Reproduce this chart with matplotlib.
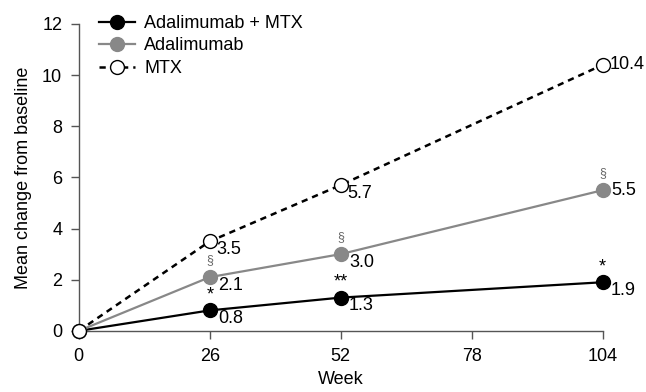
import matplotlib.pyplot as plt

plt.rcParams['font.family'] = ['Liberation Sans', 'DejaVu Sans']

weeks = [0, 26, 52, 104]
combo = [0, 0.8, 1.3, 1.9]
adal = [0, 2.1, 3.0, 5.5]
mtx = [0, 3.5, 5.7, 10.4]

combo_sig = ['', '*', '**', '*']
adal_sig = ['', '§', '§', '§']

fs = 13

fig = plt.figure(figsize=(6.46, 3.92), dpi=100)
ax = fig.add_axes([0.122, 0.156, 0.811, 0.783])

grey = '#888888'
ax.plot(weeks, combo, color='black', lw=1.6, marker='o', ms=10, mfc='black', mec='black',
        label='Adalimumab + MTX', zorder=3, clip_on=False)
ax.plot(weeks, adal, color=grey, lw=1.6, marker='o', ms=10, mfc=grey, mec=grey,
        label='Adalimumab', zorder=3, clip_on=False)
ax.plot(weeks, mtx, color='black', lw=1.8, ls=(0, (2.5, 2)), marker='o', ms=10, mfc='white',
        mec='black', mew=1, label='MTX', zorder=4, clip_on=False)

# value labels
for x, y in zip(weeks[1:], combo[1:]):
    ax.annotate(f'{y:.1f}', (x, y), xytext=(6, -6), textcoords='offset points',
                ha='left', va='center', fontsize=fs)
for x, y in zip(weeks[1:], adal[1:]):
    dy = 0 if x == 104 else -6
    ax.annotate(f'{y:.1f}', (x, y), xytext=(6, dy), textcoords='offset points',
                ha='left', va='center', fontsize=fs)
for x, y in zip(weeks[1:], mtx[1:]):
    dy = 0 if x == 104 else -6
    ax.annotate(f'{y:.1f}', (x, y), xytext=(5, dy), textcoords='offset points',
                ha='left', va='center', fontsize=fs)

# significance marks
for x, y, s in zip(weeks, combo, combo_sig):
    if s:
        ax.annotate(s, (x, y), xytext=(0, 5), textcoords='offset points',
                    ha='center', va='bottom', fontsize=13)
for x, y, s in zip(weeks, adal, adal_sig):
    if s:
        ax.annotate(s, (x, y), xytext=(0, 8), textcoords='offset points',
                    ha='center', va='bottom', fontsize=9, color='#666666')

ax.set_xlim(0, 104)
ax.set_ylim(0, 12)
ax.set_xticks([0, 26, 52, 78, 104])
ax.set_yticks([0, 2, 4, 6, 8, 10, 12])
ax.tick_params(labelsize=fs, length=6, color='#555555', width=1, pad=6)
for side in ['top', 'right']:
    ax.spines[side].set_visible(False)
for side in ['left', 'bottom']:
    ax.spines[side].set_color('#555555')
    ax.spines[side].set_linewidth(1)

ax.set_xlabel('Week', fontsize=fs, labelpad=5)
ax.set_ylabel('Mean change from baseline', fontsize=fs, labelpad=7)

ax.legend(loc='upper left', bbox_to_anchor=(0.015, 1.07), frameon=False, fontsize=fs,
          handlelength=2.0, handletextpad=0.5, labelspacing=0.3, borderaxespad=0.3)

fig.savefig('out.png', dpi=100)
